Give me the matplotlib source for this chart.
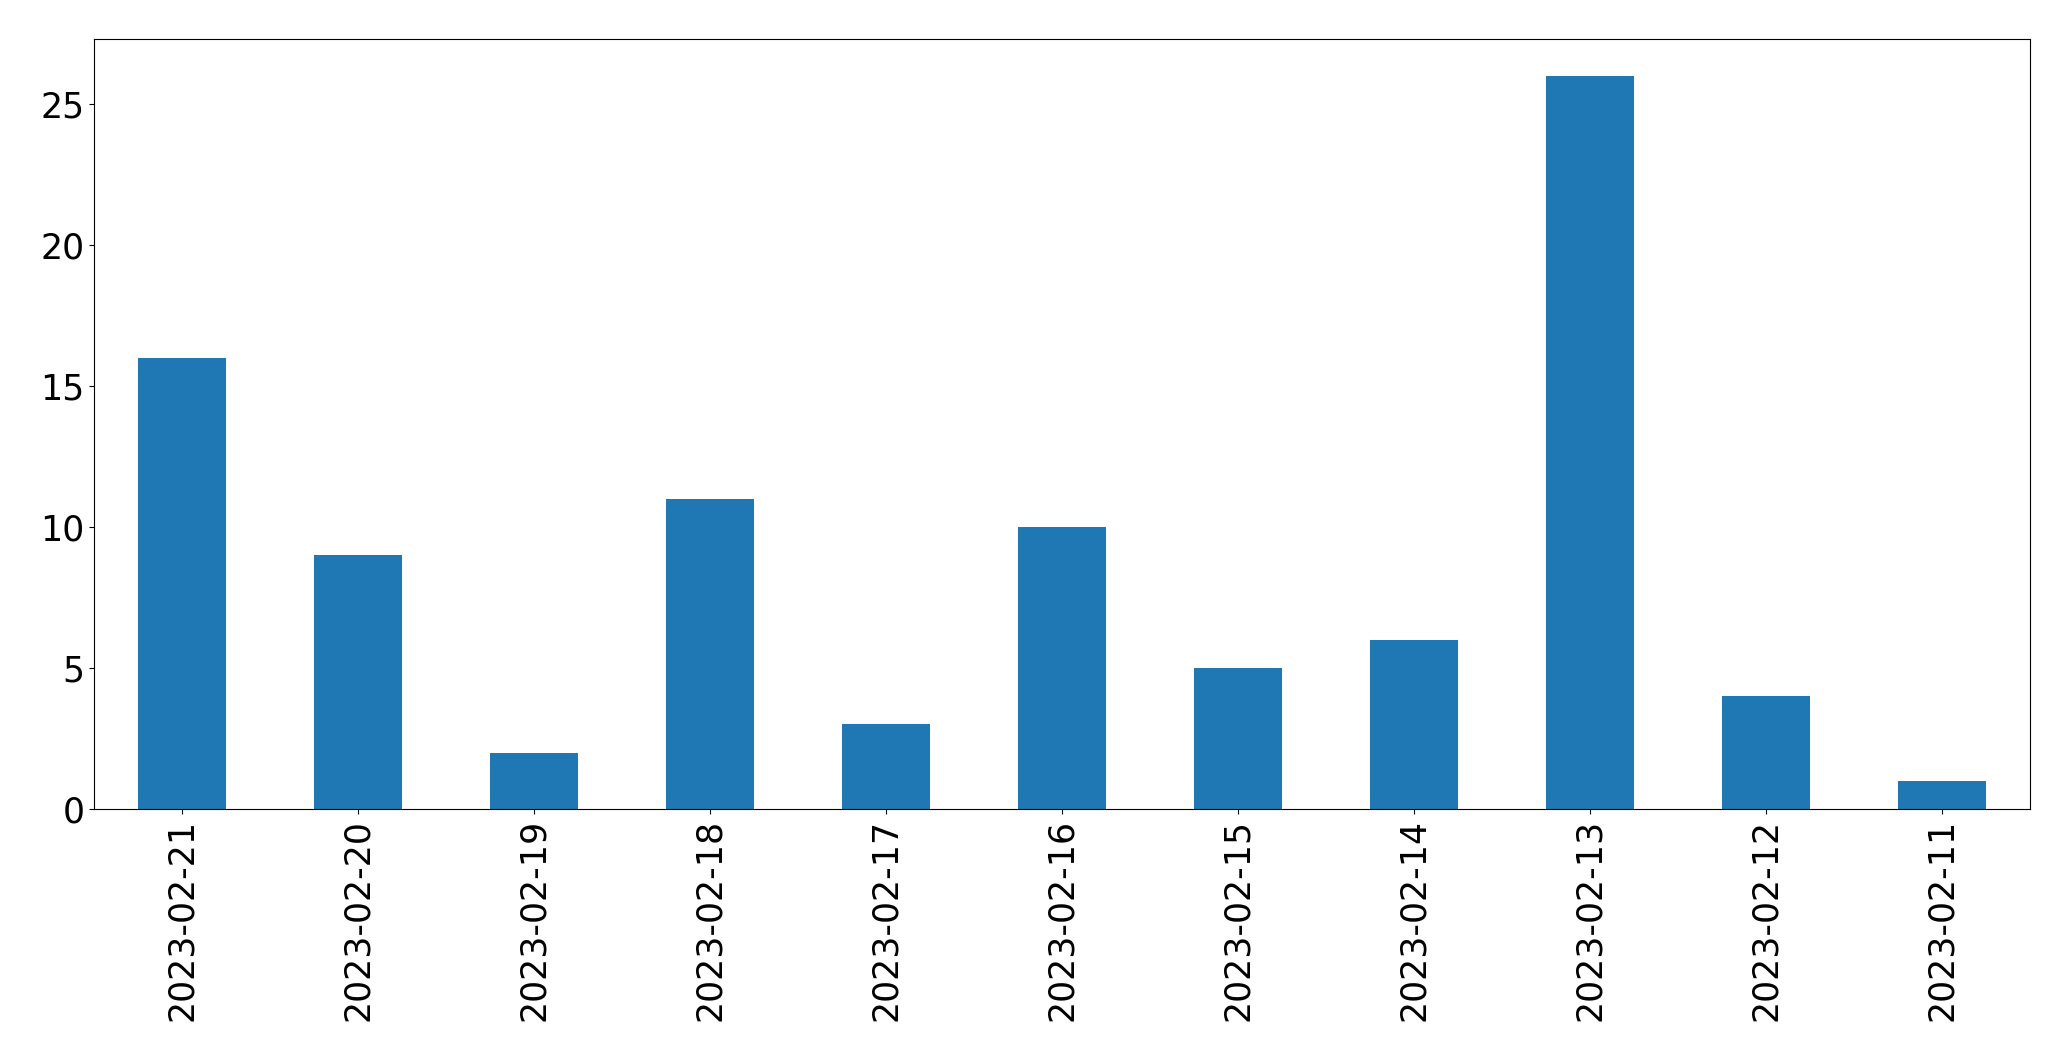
import matplotlib
matplotlib.use("Agg")
import matplotlib.pyplot as plt
import pandas as pd

dates = ['2023-02-21', '2023-02-20', '2023-02-19', '2023-02-18', '2023-02-17',
         '2023-02-16', '2023-02-15', '2023-02-14', '2023-02-13', '2023-02-12',
         '2023-02-11']
counts = [16, 9, 2, 11, 3, 10, 5, 6, 26, 4, 1]

s = pd.Series(counts, index=dates)

fig = plt.figure(figsize=(20.71, 10.61), dpi=100)
ax = fig.add_axes([94 / 2071, 1 - 809 / 1061, (2030 - 94) / 2071, (809 - 39) / 1061])
s.plot(kind='bar', ax=ax, color='#1f77b4')
ax.tick_params(labelsize=25)
fig.savefig("out.png", dpi=100)
